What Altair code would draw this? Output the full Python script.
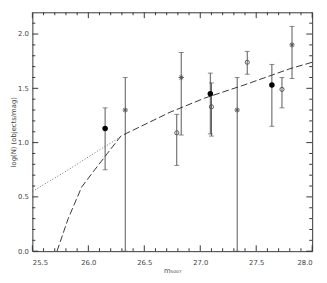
import altair as alt
import pandas as pd

# ---- data ----
filled_x = [26.15, 27.09, 27.64]
filled_y = [1.13, 1.45, 1.53]
filled_lo = [0.75, 1.08, 1.15]
filled_hi = [1.32, 1.64, 1.72]

open_x = [26.79, 27.10, 27.42, 27.73]
open_y = [1.09, 1.33, 1.74, 1.49]
open_lo = [0.79, 1.06, 1.63, 1.32]
open_hi = [1.26, 1.55, 1.84, 1.60]

star_x = [26.33, 26.83, 27.33, 27.82]
star_y = [1.30, 1.60, 1.30, 1.90]
star_lo = [0.0, 1.07, 0.0, 1.59]
star_hi = [1.60, 1.83, 1.60, 2.07]

dash_x = [25.72, 25.82, 25.94, 26.05, 26.17, 26.29, 26.73, 27.04, 27.39, 27.80, 28.0]
dash_y = [0.0, 0.30, 0.59, 0.74, 0.90, 1.06, 1.28, 1.41, 1.53, 1.68, 1.74]

dot_x = [25.5, 25.79, 26.08, 26.30]
dot_y = [0.55, 0.73, 0.92, 1.06]

x_major = [25.5, 26.0, 26.5, 27.0, 27.5, 28.0]
x_minor = [25.6, 25.7, 25.8, 25.9, 26.1, 26.2, 26.3, 26.4, 26.6, 26.7, 26.8, 26.9,
           27.1, 27.2, 27.3, 27.4, 27.6, 27.7, 27.8, 27.9]
y_major = [0.0, 0.5, 1.0, 1.5, 2.0]
y_minor = [0.1, 0.2, 0.3, 0.4, 0.6, 0.7, 0.8, 0.9, 1.1, 1.2, 1.3, 1.4,
           1.6, 1.7, 1.8, 1.9, 2.1]

W, H = 287, 245
INK = "#333333"
BAR = "#555555"

pts = pd.concat([
    pd.DataFrame({"x": filled_x, "y": filled_y, "lo": filled_lo, "hi": filled_hi, "k": "filled"}),
    pd.DataFrame({"x": open_x, "y": open_y, "lo": open_lo, "hi": open_hi, "k": "open"}),
    pd.DataFrame({"x": star_x, "y": star_y, "lo": star_lo, "hi": star_hi, "k": "star"}),
], ignore_index=True)

xs = alt.Scale(domain=[25.5, 28.0], nice=False, zero=False)
ys = alt.Scale(domain=[0, 2.2], nice=False, zero=False)

lab = dict(labelFontSize=7, labelColor="#444", labelFont="DejaVu Sans",
           titleFontSize=7, titleColor="#444", titleFont="DejaVu Sans",
           titleFontWeight="normal", ticks=False, tickSize=0, domain=False, grid=False)

XAX = alt.Axis(values=x_major, format=".1f", title="m₅₀₀₇",
               labelPadding=8, titlePadding=1, **lab)
YAX = alt.Axis(values=y_major, format=".1f", title="log(N) (objects/mag)",
               labelPadding=4, titlePadding=1, **lab)


def X(f="x"):
    return alt.X(f"{f}:Q", scale=xs, axis=XAX)


def Y(f="y"):
    return alt.Y(f"{f}:Q", scale=ys, axis=YAX)


base = alt.Chart(pts)

bars = base.mark_rule(color=BAR, strokeWidth=1).encode(x=X(), y=Y("lo"), y2="hi:Q")
cap_lo = base.mark_tick(orient="horizontal", size=5, thickness=1, color=BAR).encode(
    x=X(), y=Y("lo"))
cap_hi = base.mark_tick(orient="horizontal", size=5, thickness=1, color=BAR).encode(
    x=X(), y=Y("hi"))

filled = base.transform_filter("datum.k == 'filled'").mark_point(
    shape="circle", filled=True, size=32, color="#000", opacity=1).encode(x=X(), y=Y())
opened = base.transform_filter("datum.k == 'open'").mark_point(
    shape="circle", filled=False, size=18, color="#555", strokeWidth=1, opacity=1).encode(x=X(), y=Y())
stars = base.transform_filter("datum.k == 'star'").mark_point(
    shape="M-1,0L1,0M0,-1L0,1M-0.7,-0.7L0.7,0.7M-0.7,0.7L0.7,-0.7",
    filled=False, size=30, color="#555", strokeWidth=1, opacity=1).encode(x=X(), y=Y())

dash = alt.Chart(pd.DataFrame({"x": dash_x, "y": dash_y})).mark_line(
    color=INK, strokeWidth=1, strokeDash=[7, 3]).encode(x=X(), y=Y())
dot = alt.Chart(pd.DataFrame({"x": dot_x, "y": dot_y})).mark_line(
    color="#666", strokeWidth=1, strokeDash=[1, 2]).encode(x=X(), y=Y())


def xt(vals, y0, y1):
    return alt.Chart(pd.DataFrame({"x": vals})).mark_rule(color=INK, strokeWidth=1).encode(
        x=X(), y=alt.value(y0), y2=alt.value(y1))


def yt(vals, x0, x1):
    return alt.Chart(pd.DataFrame({"y": vals})).mark_rule(color=INK, strokeWidth=1).encode(
        y=Y(), x=alt.value(x0), x2=alt.value(x1))


ticks = [
    xt(x_major, H, H - 6), xt(x_minor, H, H - 3),
    xt(x_major, 0, 6), xt(x_minor, 0, 3),
    yt(y_major, 0, 6), yt(y_minor, 0, 3),
    yt(y_major, W, W - 6), yt(y_minor, W, W - 3),
]

chart = alt.layer(bars, cap_lo, cap_hi, dot, dash, filled, opened, stars, *ticks).properties(
    width=W, height=H,
    padding={"left": 25, "top": 1, "right": 7, "bottom": 21},
    autosize=alt.AutoSizeParams(type="none"),
    background="white",
).configure_view(stroke=INK, strokeWidth=1)

chart.save("out.html", embed_options={"renderer": "svg", "actions": False})
